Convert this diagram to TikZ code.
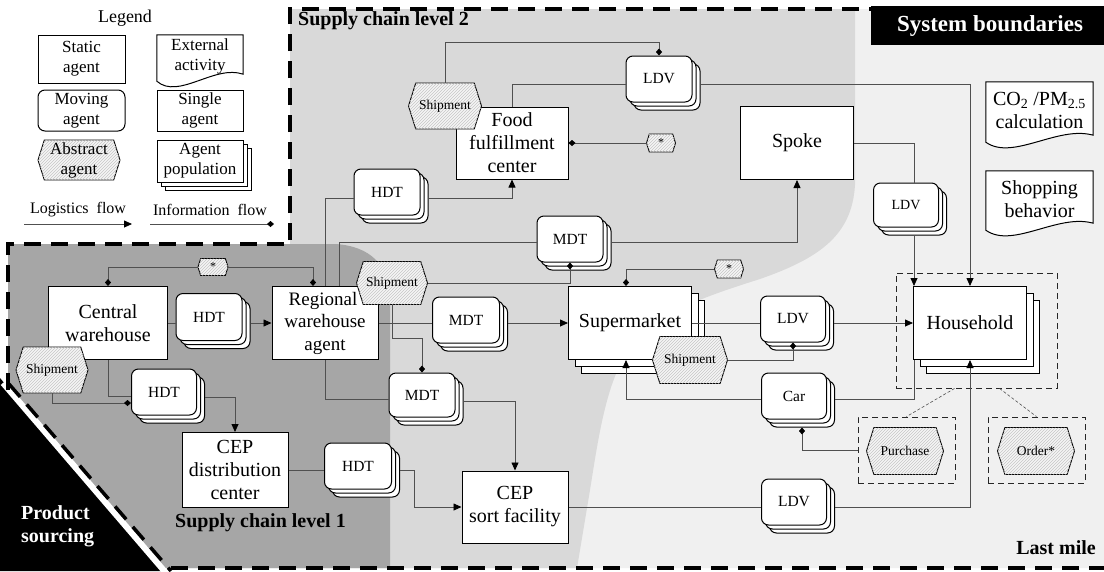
\documentclass[tikz,border=0pt]{standalone}
\usepackage{fontspec}
\setmainfont{Liberation Serif}
\usetikzlibrary{shapes.symbols,shadows,patterns,arrows.meta,calc}
\definecolor{lastmile}{HTML}{F0F0F0}
\definecolor{lvtwo}{HTML}{D9D9D9}
\definecolor{lvone}{HTML}{A6A6A6}
\definecolor{conn}{HTML}{505050}
\newcommand\docframe[1]{\draw[line width=1pt, fill=white] ($(#1.south west)+(0,-5)$) -- (#1.north west) -- (#1.north east) -- ($(#1.south east)+(0,-12)$) .. controls ($(#1.south east)!0.33!(#1.south west)+(0,-22)$) and ($(#1.south west)!0.25!(#1.south east)+(0,14)$) .. ($(#1.south west)+(0,-5)$) -- cycle;}
\begin{document}
\begin{tikzpicture}[x=1pt,y=-1pt,
  every node/.style={inner sep=0pt, align=center, font=\fontsize{20}{23}\selectfont},
  sz/.style 2 args={minimum width=#1pt, minimum height=#2pt},
  base/.style={draw=black, line width=1pt, fill=white},
  static/.style={base, rectangle},
  moving/.style={base, rectangle, rounded corners=7pt, font=\fontsize{15.5}{18}\selectfont},
  mstack/.style={copy shadow={shadow xshift=8pt,shadow yshift=-8pt,line width=1pt},copy shadow={shadow xshift=4pt,shadow yshift=-4pt,line width=1pt}},
  bstack/.style={copy shadow={shadow xshift=13pt,shadow yshift=-14pt,line width=1pt},copy shadow={shadow xshift=7pt,shadow yshift=-7pt,line width=1pt}},
  abstract/.style={signal, signal to=west and east, signal pointer angle=145, draw=black, line width=0.9pt, fill=gray!8, postaction={pattern=north east lines, pattern color=gray!45}, font=\fontsize{13.5}{16}\selectfont},
  small/.style={font=\fontsize{12}{14}\selectfont},
  leg/.style={font=\fontsize{17}{20}\selectfont},
  grp/.style={draw=black!85, line width=0.9pt, dash pattern=on 6pt off 4pt},
  conline/.style={draw=conn, line width=0.8pt},
  logi/.style={conline, -{Triangle[length=8pt,width=7pt,black]}},
  info/.style={conline, -{Diamond[length=7pt,width=6pt,black]}},
  bound/.style={line width=3.5pt, dash pattern=on 17pt off 10pt},
  title/.style={font=\bfseries\fontsize{20}{23}\selectfont},
]
\useasboundingbox (0,0) rectangle (1104,571);
% ---------- backgrounds ----------
\fill[white] (0,0) rectangle (1104,571);
\fill[lastmile] (290,9) -- (1104,9) -- (1104,568) -- (8,568) -- (8,244) -- (290,244) -- cycle;
\fill[lvtwo] (290,9) -- (855,9) -- (855,185) .. controls (852,235) and (820,258) .. (760,279) .. controls (700,298) and (650,315) .. (625,355) .. controls (605,390) and (598,440) .. (590,490) -- (577,568) -- (8,568) -- (8,244) -- (290,244) -- cycle;
\fill[lvone] (8,244) -- (335,244) .. controls (370,246) and (390,265) .. (390,300) -- (390,568) -- (8,568) -- cycle;
\fill[black] (0,378) -- (163,571) -- (0,571) -- cycle;
\draw[white, line width=6pt] (3,383) -- (166,573);
\draw[black, bound] (9,384) -- (171,571);
\draw[bound] (8,390) -- (8,244) -- (290,244) -- (290,9) -- (871,9);
\draw[bound] (171,568) -- (1104,568);
\fill[black] (871,6) rectangle (1104,45);
% ---------- titles ----------
\node[font=\bfseries\fontsize{23}{26}\selectfont, text=white] (sysb) at (990,26) {System boundaries};
\node[title, anchor=west] (sc2) at (298,21) {Supply chain level 2};
\node[title, anchor=west] (sc1) at (175,523) {Supply chain level 1};
\node[title, anchor=east] (lmile) at (1096,548) {Last mile};
\node[title, text=white, anchor=west, align=left] (psrc) at (21,526) {Product\\sourcing};
% ---------- legend ----------
\node[font=\fontsize{18}{22}\selectfont] (legtitle) at (125,18) {Legend};
\node[static, leg, sz={87}{48}] (lstatic) at (81.5,59) {Static\\agent};
\path node[sz={86}{51}] (lext) at (200,60.5) {};
\docframe{lext}
\node[leg] (lexttxt) at (200,56) {External\\activity};
\node[moving, leg, sz={87}{41}] (lmoving) at (81.5,110.5) {Moving\\agent};
\node[static, leg, sz={86}{41}] (lsingle) at (200,110.5) {Single\\agent};
\node[abstract, leg, sz={82}{40}] (labstract) at (79,160) {Abstract\\agent};
\node[static, mstack, leg, sz={86}{42}] (lpop) at (200,161) {Agent\\population};
\node[font=\fontsize{16}{19}\selectfont] (llog) at (78,210) {Logistics\ \ flow};
\node[font=\fontsize{16}{19}\selectfont] (linf) at (210,210) {Information\ \ flow};
\coordinate (lf1) at (24,224); \coordinate (lf2) at (132,224);
\coordinate (if1) at (150,224); \coordinate (if2) at (274,224);
\draw[logi] (lf1) -- (lf2);
\draw[info] (if1) -- (if2);
% ---------- right documents ----------
\path node[sz={107}{65}] (co2) at (1039.5,114.5) {};
\docframe{co2}
\node (co2txt) at (1039.5,110) {CO\textsubscript{2} /PM\textsubscript{2.5}\\calculation};
\path node[sz={107}{64}] (shop) at (1039.5,203) {};
\docframe{shop}
\node (shoptxt) at (1039.5,199) {Shopping\\behavior};
% ---------- groups ----------
\node[grp, sz={161}{115}] (hhgroup) at (976.5,330.5) {};
\node[grp, sz={97}{66}] (pgroup) at (906.5,450) {};
\node[grp, sz={97}{66}] (ogroup) at (1036.5,450) {};
% ---------- agents ----------
\node[static, sz={119}{73}] (central) at (108,323) {Central\\warehouse};
\node[moving, mstack, sz={66}{47}] (hdtA) at (209,317) {HDT};
\node[static, sz={106}{73}, font=\fontsize{19}{22.5}\selectfont] (regional) at (325,323) {Regional\hspace{4pt}\null\\warehouse\\agent};
\node[moving, mstack, sz={65}{46}] (hdtB) at (164,392) {HDT};
\node[static, sz={106}{75}] (cepd) at (235,470) {CEP\\distribution\\center};
\node[moving, mstack, sz={67}{46}] (hdtC) at (358,466) {HDT};
\node[static, sz={106}{72}] (ceps) at (515,507) {CEP\\sort facility};
\node[moving, mstack, sz={66}{46}] (hdtF) at (387,192) {HDT};
\node[moving, mstack, sz={66}{46}] (mdtS) at (570,239) {MDT};
\node[moving, mstack, sz={67}{46}] (mdtM) at (466,320) {MDT};
\node[moving, mstack, sz={66}{44}] (mdtC) at (422,395) {MDT};
\node[static, sz={112}{72}] (ffc) at (512,143) {Food\\fulfillment\\center};
\node[moving, mstack, sz={66}{46}] (ldvF) at (659,79) {LDV};
\node[static, sz={113}{73}] (spoke) at (797,143) {Spoke};
\node[moving, mstack, sz={65}{44}, font=\fontsize{14}{16}\selectfont] (ldvS) at (906,205) {LDV};
\node[static, bstack, sz={123}{73}] (sm) at (630,323) {Supermarket};
\node[moving, mstack, sz={65}{46}] (ldvM) at (793,319) {LDV};
\node[moving, mstack, sz={65}{46}] (car) at (794,396) {Car};
\node[static, bstack, sz={113}{73}] (hh) at (970,323) {Household};
\node[moving, mstack, sz={65}{46}] (ldvC) at (794,502) {LDV};
% ---------- abstract agents ----------
\node[abstract, sz={71}{43}] (shipR) at (392,283) {Shipment};
\node[abstract, sz={72}{46}] (shipC) at (52,370) {Shipment};
\node[abstract, sz={73}{46}] (shipF) at (445,106) {Shipment};
\node[abstract, sz={75}{47}] (shipS) at (690,360) {Shipment};
\node[abstract, small, sz={30}{17}] (starA) at (213,267) {*};
\node[abstract, small, sz={29}{18}] (starF) at (661,143) {*};
\node[abstract, small, sz={29}{18}] (starS) at (729,269) {*};
\node[abstract, sz={77}{47}] (purch) at (905,451) {Purchase};
\node[abstract, sz={77}{47}] (order) at (1036,451) {Order*};
% ---------- helper x positions ----------
\coordinate (x313) at (313,0);
\coordinate (x339) at (339,0);
\coordinate (x626) at (626,0);
\coordinate (x914) at (914,0);
% ---------- connectors ----------
\draw[conline] (central.east) -- (central.east -| hdtA.west);
\draw[logi] (regional.west -| hdtA.east) ++(8,0) -- (regional.west);
\draw[info] (starA.west) -| (central.north);
\draw[info] (starA.east) -| (x313 |- regional.north);
\draw[conline] (central.south) |- ($(hdtB.west)+(0,4)$);
\draw[info] (shipC.south) |- ($(hdtB.west)+(0,11)$);
\draw[logi] ($(hdtB.east)+(8,5)$) -| (cepd.north);
\draw[conline] (cepd.east) -- (cepd.east -| hdtC.west);
\draw[logi] ($(hdtC.east)+(8,4)$) -- ++(14,0) |- (ceps.west);
\draw[conline] (regional.north) |- ($(hdtF.west)+(0,6)$);
\draw[logi] ($(hdtF.east)+(8,6)$) -| (ffc.south);
\draw[conline] (x339 |- regional.north) |- ($(mdtS.west)+(0,3)$);
\draw[logi] ($(mdtS.east)+(8,3)$) -| (spoke.south);
\draw[info] (shipR.east) -| (mdtS.south);
\draw[conline] (regional.east) -- (regional.east -| mdtM.west);
\draw[logi] ($(mdtM.east)+(8,3)$) -- (sm.west);
\draw[info] (shipR.south) -- ++(0,33) -| (mdtC.north);
\draw[conline] (regional.south) |- ($(mdtC.west)+(0,4)$);
\draw[logi] ($(mdtC.east)+(8,6)$) -| (ceps.north);
\draw[info] (shipF.north) -- ++(0,-40) -| (ldvF.north);
\draw[conline] (ffc.north) |- ($(ldvF.west)+(0,5)$);
\draw[logi] ($(ldvF.east)+(8,5)$) -| (hh.north);
\draw[info] (starF.west) -- (ffc.east);
\draw[conline] (spoke.east) -| (x914 |- ldvS.north);
\draw[logi] ($(x914 |- ldvS.south)+(0,8)$) -- (x914 |- hh.north);
\draw[conline] (sm.east) -- (sm.east -| ldvM.west);
\draw[logi] ($(ldvM.east)+(8,4)$) -- (hh.west);
\draw[info] (starS.west) -| (x626 |- sm.north);
\draw[logi] ($(car.west)+(0,3)$) -| (x626 |- sm.south);
\draw[info] (shipS.east) -| (ldvM.south);
\draw[conline] ($(car.east)+(8,3)$) -| (x914 |- hh.south);
\draw[info] (pgroup.west) -| ($(car.south)+(8,8)$);
\draw[conline] (ceps.east) -- (ceps.east -| ldvC.west);
\draw[logi] ($(ldvC.east)+(8,5)$) -| (hh.south);
\draw[conline, dash pattern=on 3pt off 2pt, line width=0.6pt] ($(hhgroup.south west)+(59,0)$) -- (pgroup.north);
\draw[conline, dash pattern=on 3pt off 2pt, line width=0.6pt] ($(hhgroup.south west)+(104,0)$) -- (ogroup.north);
\end{tikzpicture}
\end{document}
